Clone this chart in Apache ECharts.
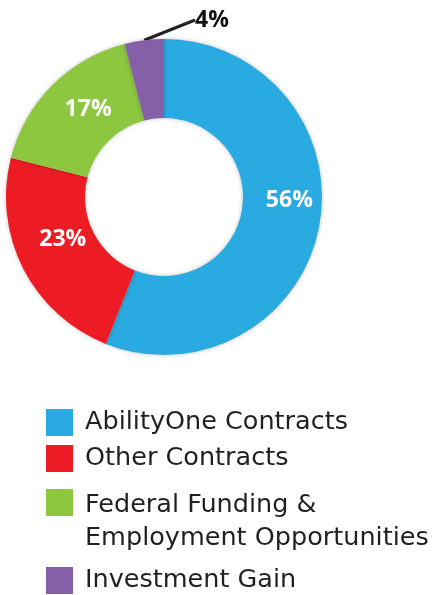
<!DOCTYPE html>
<html>
<head>
<meta charset="utf-8">
<script src="https://cdn.jsdelivr.net/npm/echarts@6/dist/echarts.min.js"></script>
<style>
  html, body { margin: 0; padding: 0; background: #ffffff; }
  #chart { width: 433px; height: 595px; }
</style>
</head>
<body>
<div id="chart"></div>
<script>
// 数据
const categories = ['AbilityOne Contracts', 'Other Contracts', 'Federal Funding &\nEmployment Opportunities', 'Investment Gain'];
const shares = [56, 23, 17, 4];
const colors = ['#29abe2', '#ed1c24', '#8dc63f', '#8560a8'];
const legendTops = [406, 442, 450, 564];

const chart = echarts.init(document.getElementById('chart'));

// 扇区
const pieData = categories.map(function (name, i) {
  const item = { name: name, value: shares[i], itemStyle: { color: colors[i] } };
  if (i === 3) {
    item.label = {
      position: 'outside',
      color: '#111111',
      fontSize: 23
    };
    item.labelLine = { show: true, length: 8, length2: 0, lineStyle: { color: '#222222', width: 3 } };
  }
  return item;
});

// 图例：每项单独一个，方便对齐
const legendText = {
  fontFamily: 'DejaVu Sans',
  fontSize: 25.5,
  color: '#231f20',
  lineHeight: 33
};
const legends = categories.map(function (name, i) {
  return {
    data: [name],
    orient: 'vertical',
    left: 46,
    top: legendTops[i],
    padding: 0,
    itemWidth: 27,
    itemHeight: 27,
    itemGap: 0,
    icon: 'rect',
    selectedMode: false,
    formatter: function (n) {
      // 两行的那项前面垫一个空行，让第一行和方块对齐
      if (n.indexOf('\n') < 0) return '{a|' + n + '}';
      return '{s| }\n' + n.split('\n').map(function (t) { return '{a|' + t + '}'; }).join('\n');
    },
    textStyle: Object.assign({}, legendText, {
      padding: [0, 0, 0, 7],
      rich: {
        a: legendText,
        s: { fontSize: 10, lineHeight: 39 }
      }
    })
  };
});

const option = {
  animation: false,
  legend: legends,
  series: [
    {
      type: 'pie',
      center: [164, 197],
      radius: [79, 158],
      startAngle: 90,
      clockwise: true,
      data: pieData,
      itemStyle: {
        shadowBlur: 4,
        shadowColor: 'rgba(0,0,0,0.25)'
      },
      label: {
        show: true,
        position: 'inside',
        formatter: '{c}%',
        color: '#ffffff',
        fontFamily: 'Open Sans',
        fontWeight: 'bold',
        fontSize: 23
      },
      labelLayout: function (params) {
        if (params.dataIndex === 3) {
          return { x: 212, y: 20, align: 'center', verticalAlign: 'middle' };
        }
        if (params.dataIndex === 0) return { dx: 6, dy: -19 };
        if (params.dataIndex === 1) return { dx: 7, dy: -13 };
        if (params.dataIndex === 2) return { dx: 10, dy: -2 };
      }
    }
  ]
};

option && chart.setOption(option);
</script>
</body>
</html>
